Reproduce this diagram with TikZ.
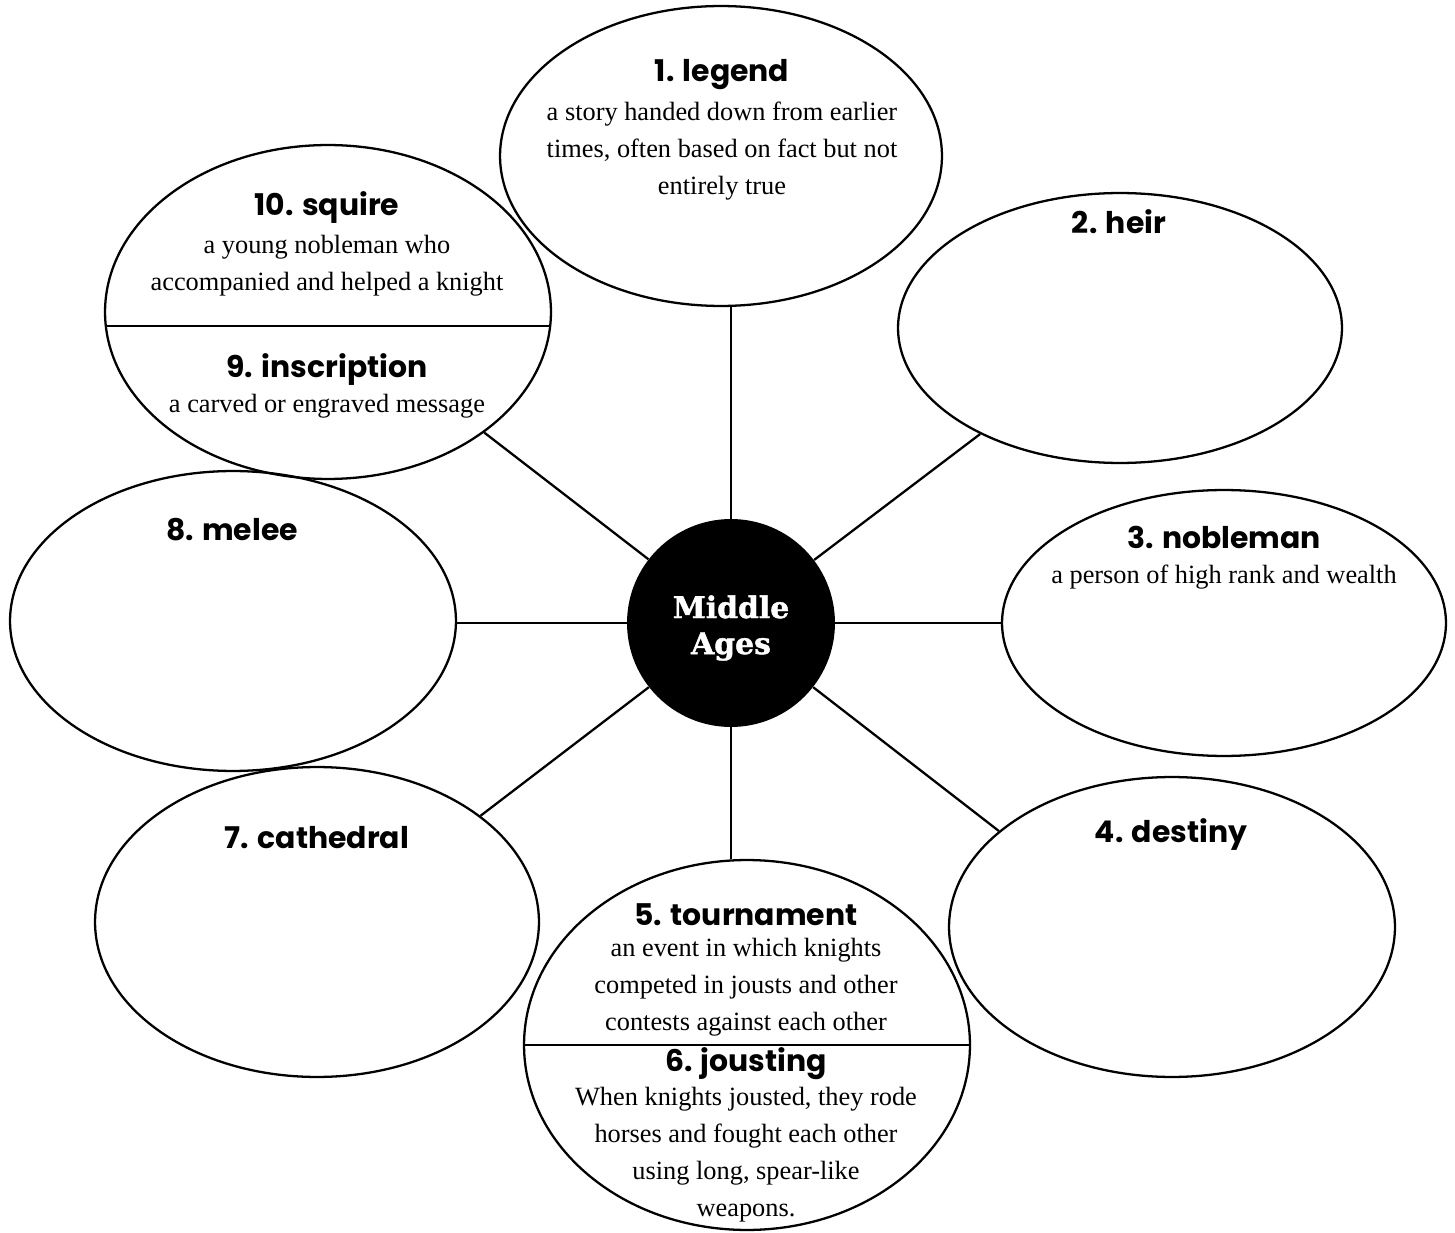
\documentclass[tikz,border=0pt]{standalone}
\usepackage{fontspec}
\setmainfont{Liberation Serif}
\newfontfamily\headfont{Poppins}
\newfontfamily\hubfont{DejaVu Serif}[BoldFeatures={FakeBold=1.5}]
\usetikzlibrary{shapes.geometric, calc}
\begin{document}
\begin{tikzpicture}[x=0.02cm, y=-0.02cm]

    % Styles for the bubbles and their texts
    \tikzstyle{bubble} = [ellipse, draw=black, line width=1.3pt, inner sep=0pt]
    \tikzstyle{word} = [font=\headfont\bfseries\fontsize{17}{20}\selectfont, inner sep=0pt]
    \tikzstyle{meaning} = [font=\fontsize{15}{21}\selectfont, align=center, inner sep=0pt]
    \tikzstyle{link} = [line width=1.3pt]

    \useasboundingbox (0,0) rectangle (1455,1233);

    % Central circle
    \node[circle, fill=black, minimum size=4.16cm, inner sep=0pt] (mid) at (731,623) {};
    \node[text=white, align=center, inner sep=0pt,
          font=\hubfont\bfseries\fontsize{17}{20.5}\selectfont] (midtext) at (731,628) {Middle\\Ages};

    % 1. legend
    \node[bubble, minimum width=8.84cm, minimum height=6cm] (legend) at (721,156) {};
    \node[word] (legendw) at (722,75) {1. legend};
    \node[meaning] (legendm) at (722,151) {a story handed down from earlier\\times, often based on fact but not\\entirely true};

    % 2. heir
    \node[bubble, minimum width=8.88cm, minimum height=5.4cm] (heir) at (1120,328) {};
    \node[word] (heirw) at (1119,222) {2. heir};

    % 3. nobleman
    \node[bubble, minimum width=8.88cm, minimum height=5.32cm] (noble) at (1224,623) {};
    \node[word] (noblew) at (1224,537) {3. nobleman};
    \node[meaning] (noblem) at (1224,577) {a person of high rank and wealth};

    % 4. destiny
    \node[bubble, minimum width=8.92cm, minimum height=6cm] (destiny) at (1172,927) {};
    \node[word] (destinyw) at (1171,834) {4. destiny};

    % 5. tournament and 6. jousting
    \node[bubble, minimum width=8.92cm, minimum height=7.4cm] (tour) at (747,1045) {};
    \draw[link] (tour.west) -- (tour.east);
    \node[word] (tourw) at (746,915) {5. tournament};
    \node[meaning] (tourm) at (746,987) {an event in which knights\\competed in jousts and other\\contests against each other};
    \node[word] (joustw) at (746,1064) {6. jousting};
    \node[meaning] (joustm) at (746,1155) {When knights jousted, they rode\\horses and fought each other\\using long, spear-like\\weapons.};

    % 7. cathedral
    \node[bubble, minimum width=8.88cm, minimum height=6.2cm] (cathedral) at (317,922) {};
    \node[word] (cathedralw) at (317,838) {7. cathedral};

    % 8. melee
    \node[bubble, minimum width=8.92cm, minimum height=6cm] (melee) at (233,621) {};
    \node[word] (meleew) at (232,530) {8. melee};

    % 10. squire and 9. inscription
    \node[bubble, minimum width=8.92cm, minimum height=6.68cm] (squire) at (328,312) {};
    \draw[link] ($(squire.west)+(1,14)$) -- ($(squire.east)+(-1,14)$);
    \node[word] (squirew) at (327,208) {10. squire};
    \node[meaning] (squirem) at (327,266) {a young nobleman who\\accompanied and helped a knight};
    \node[word] (inscrw) at (327,370) {9. inscription};
    \node[meaning] (inscrm) at (327,406) {a carved or engraved message};

    % Spokes from the centre
    \draw[link] (mid) -- (mid |- legend.south);
    \draw[link] (mid) -- (heir);
    \draw[link] (mid) -- (noble);
    \draw[link] (mid.-38) -- (destiny.151);
    \draw[link] (mid) -- (mid |- tour.north);
    \draw[link] (mid.218) -- (cathedral.33);
    \draw[link] (mid) -- (mid -| melee.east);
    \draw[link] (mid) -- (squire);

\end{tikzpicture}
\end{document}
